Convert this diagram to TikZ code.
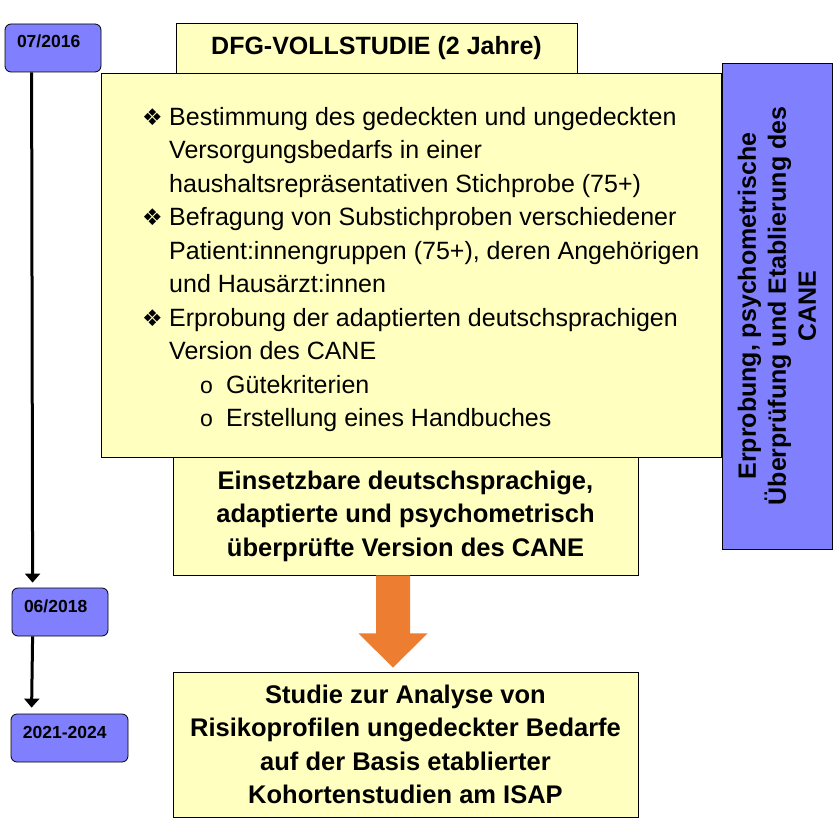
\documentclass[tikz,border=0pt]{standalone}
\usepackage{fontspec}
\setmainfont{Liberation Sans}
\newfontfamily\symfont{DejaVu Sans}
\usetikzlibrary{positioning}
\usetikzlibrary{calc}
\usetikzlibrary{arrows.meta}

\definecolor{boxyellow}{HTML}{FFFFC0}
\definecolor{datepurple}{HTML}{8080FF}
\definecolor{arroworange}{HTML}{ED7D31}

\newcommand{\bul}{\makebox[27pt][l]{\symfont\fontsize{23}{23}\selectfont ❖}}
\newcommand{\ind}{\hspace*{27pt}}
\newcommand{\subbul}{\hspace*{58pt}\makebox[26pt][l]{\fontsize{23}{23}\selectfont o}}

\tikzset{
  datebox/.style={draw, rounded corners=6pt, fill=datepurple, line width=0.8pt,
    align=left, font=\fontsize{17.5}{20}\selectfont\bfseries,
    text height=12.5pt, text depth=12.5pt, inner xsep=12pt, minimum height=48pt},
  yellowbox/.style={draw, fill=boxyellow, line width=0.8pt, align=center,
    font=\fontsize{25.5}{33.5}\selectfont\bfseries},
  timeline/.style={line width=3pt, -{Triangle[width=15pt,length=9pt]}},
}

\begin{document}
\begin{tikzpicture}[x=1pt, y=-1pt]

\pgfmathsetmacro{\LX}{27}
\pgfmathsetmacro{\GAP}{5}

\useasboundingbox (0, 0) rectangle (839, 840);

% boxes of the study
\node [yellowbox, minimum width=401pt, minimum height=50pt,
font=\fontsize{25}{30}\selectfont\bfseries] (title) at (376.5, 48) {DFG-VOLLSTUDIE (2 Jahre)};

\node [draw, fill=boxyellow, line width=0.8pt, inner sep=0pt,
minimum width=620pt, minimum height=384pt] (main) at (411, 265.5) {};

\node [anchor=base west, inner sep=0pt] (items) at (142, 125) {\parbox[t]{570pt}{%
\fontsize{25}{33.5}\selectfont
\bul Bestimmung des gedeckten und ungedeckten\\
\ind Versorgungsbedarfs in einer\\
\ind haushaltsrepräsentativen Stichprobe (75+)\\
\bul Befragung von Substichproben verschiedener\\
\ind Patient:innengruppen (75+), deren Angehörigen\\
\ind und Hausärzt:innen\\
\bul Erprobung der adaptierten deutschsprachigen\\
\ind Version des CANE\\
\subbul Gütekriterien\\
\subbul Erstellung eines Handbuches}};

\node [yellowbox, minimum width=465pt, minimum height=118pt] (einsatz) at
(405.5, 516) {Einsetzbare deutschsprachige,\\adaptierte und psychometrisch\\überprüfte Version des CANE};

\node [yellowbox, minimum width=465pt, minimum height=145pt] (studie) at
(405.5, 744.5) {Studie zur Analyse von\\Risikoprofilen ungedeckter Bedarfe\\auf der Basis etablierter\\Kohortenstudien am ISAP};

\node [draw, fill=datepurple, line width=0.8pt, rotate=90, align=center,
minimum width=486pt, minimum height=110pt,
font=\fontsize{25}{30}\selectfont\bfseries] (side) at (777, 306)
{Erprobung, psychometrische\\Überprüfung und Etablierung des\\CANE};

% time line
\node [datebox, text width=72pt] (d1) at (53, 48) {07/2016};
\node [datebox, text width=72pt] (d2) at (60, 612) {06/2018};
\node [datebox, text width=93pt] (d3) at (69.5, 738) {2021-2024};

\draw [timeline] ($(d1.south west) + (\LX, 0)$) -- ($(d2.north west) + (\LX-6, -\GAP)$);
\draw [timeline] ($(d2.south west) + (\LX-6, 0)$) -- ($(d3.north west) + (\LX-6, -\GAP-1)$);

% orange arrow
\coordinate (o) at ($(einsatz.south) + (-12.5, 0)$);
\fill [arroworange] ($(o) + (-17, 0)$) -- ($(o) + (-17, 58)$) -- ($(o) + (-34.5, 58)$)
-- ($(studie.north) + (-12.5, -4)$) -- ($(o) + (34.5, 58)$) -- ($(o) + (17, 58)$)
-- ($(o) + (17, 0)$) -- cycle;

\end{tikzpicture}
\end{document}
